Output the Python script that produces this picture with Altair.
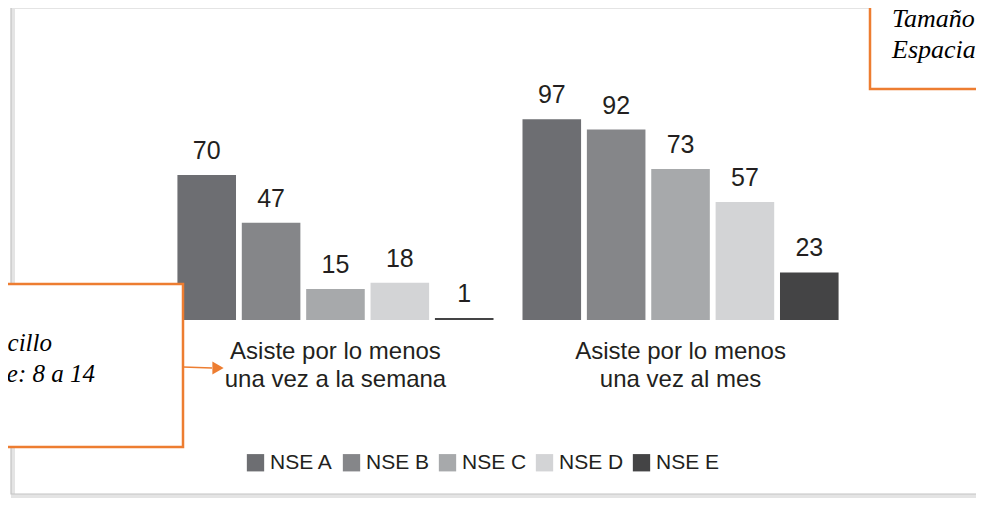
import altair as alt
import pandas as pd

# ---- data ----
categorias = ["Asiste por lo menos|una vez a la semana", "Asiste por lo menos|una vez al mes"]
nse = ["NSE A", "NSE B", "NSE C", "NSE D", "NSE E"]
semana = [70, 47, 15, 18, 1]
mes = [97, 92, 73, 57, 23]
colores = ["#6d6e72", "#858689", "#a7a9ab", "#d3d4d6", "#444445"]

rows = []
for cat, vals in zip(categorias, [semana, mes]):
    for n, v in zip(nse, vals):
        rows.append({"categoria": cat, "nse": n, "valor": v})
df = pd.DataFrame(rows)

FONT = "Liberation Sans"
SERIF = "Liberation Serif"
ORANGE = "#ed7d31"
TXT = "#231f20"

x_enc = alt.X("categoria:N", sort=categorias, title=None,
              scale=alt.Scale(paddingInner=0.084, paddingOuter=0.036),
              axis=alt.Axis(domain=False, ticks=False, labelAngle=0, labelLimit=0,
                            labelExpr="split(datum.label, '|')",
                            labelFont=FONT, labelFontSize=24, labelColor=TXT,
                            labelLineHeight=28, labelPadding=19))
xo_enc = alt.XOffset("nse:N", sort=nse,
                     scale=alt.Scale(paddingInner=0.09, paddingOuter=0))
y_enc = alt.Y("valor:Q", scale=alt.Scale(domain=[0, 100]), axis=None)

base = alt.Chart(df)

bars = base.mark_bar().encode(
    x=x_enc, xOffset=xo_enc, y=y_enc,
    color=alt.Color("nse:N", sort=nse, scale=alt.Scale(domain=nse, range=colores),
                    legend=alt.Legend(title=None, orient="none", legendX=80, legendY=339,
                                      direction="horizontal", columns=5, gridAlign="each",
                                      symbolType="square", symbolSize=300,
                                      symbolStrokeWidth=0, labelFont=FONT,
                                      labelFontSize=21, labelColor=TXT,
                                      labelOffset=4, columnPadding=7)),
)

labels = base.mark_text(baseline="bottom", dy=-11, font=FONT, fontSize=25, color=TXT).encode(
    x=x_enc, xOffset=xo_enc, y=y_enc, text="valor:Q"
)

one = pd.DataFrame({"k": [0]})

# decorative frame (page border with shadow)
frame_shadow = alt.Chart(one).mark_rect(fill=None, stroke="#e4e4e4", strokeWidth=4).encode(
    x=alt.value(-152), x2=alt.value(832), y=alt.value(-106), y2=alt.value(383))
frame = alt.Chart(one).mark_rect(fill=None, stroke="#c4c4c4", strokeWidth=1.2).encode(
    x=alt.value(-154), x2=alt.value(830), y=alt.value(-108), y2=alt.value(381))

# left annotation box
box_left = alt.Chart(one).mark_rect(fill="white", stroke=ORANGE, strokeWidth=2.5).encode(
    x=alt.value(-220), x2=alt.value(18), y=alt.value(171), y2=alt.value(334))
left_txt_df = pd.DataFrame({"t": ["Interlineado sencillo", "Tamaño de fuente: 8 a 14"],
                            "px": [-113, -70], "py": [238, 269]})
left_txt = alt.Chart(left_txt_df).mark_text(align="right", baseline="alphabetic", font=SERIF,
                                             fontStyle="italic", fontSize=25, color="black").encode(
    x=alt.X("px:Q", scale=None), y=alt.Y("py:Q", scale=None), text="t:N")
arrow_line = alt.Chart(one).mark_rule(stroke=ORANGE, strokeWidth=1.6).encode(
    x=alt.value(18), x2=alt.value(47), y=alt.value(254), y2=alt.value(255))
arrow_head = alt.Chart(one).mark_point(shape="triangle-right", filled=True, fill=ORANGE,
                                       opacity=1, size=170, strokeWidth=0).encode(
    x=alt.value(53), y=alt.value(255))

# top-right annotation box
box_right = alt.Chart(one).mark_rect(fill="white", stroke=ORANGE, strokeWidth=2.5).encode(
    x=alt.value(705), x2=alt.value(840), y=alt.value(-150), y2=alt.value(-24))
right_txt_df = pd.DataFrame({"t": ["Tamaño de fuente: 12", "Espaciado: 1.5"],
                             "px": [727, 727], "py": [-86, -55]})
right_txt = alt.Chart(right_txt_df).mark_text(align="left", baseline="alphabetic", font=SERIF,
                                               fontStyle="italic", fontSize=26, color="black").encode(
    x=alt.X("px:Q", scale=None), y=alt.Y("py:Q", scale=None), text="t:N")

chart = alt.layer(
    frame_shadow, frame, bars, labels,
    box_left, left_txt, arrow_line, arrow_head,
    box_right, right_txt,
).resolve_scale(x="shared").properties(
    width=686, height=207,
    autosize=alt.AutoSizeParams(type="none"),
    padding={"left": 157, "top": 105, "right": 125, "bottom": 178},
    background="white",
).configure_view(stroke=None)

chart.save("out.html", embed_options={"renderer": "svg", "actions": False})
